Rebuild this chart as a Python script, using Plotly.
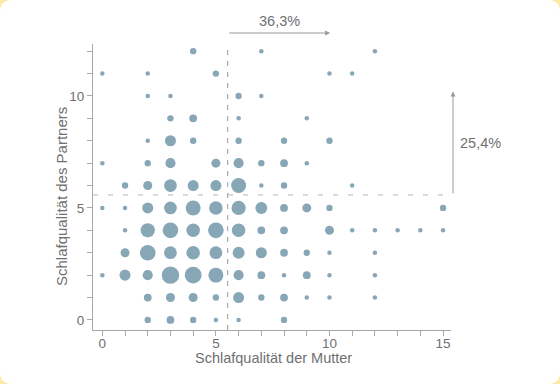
import plotly.graph_objects as go

# ---- data ----
x_values = list(range(0, 16))           # Schlafqualität der Mutter
y_values = list(range(0, 13))           # Schlafqualität des Partners
# counts[y][x]: number of couples at each combination (0 = none)
counts = [
    [0, 0, 2, 3, 2, 1, 1, 0, 2, 0, 0, 0, 0, 0, 0, 0],    # y = 0
    [0, 0, 3, 4, 4, 2, 6, 2, 3, 1, 1, 0, 1, 0, 0, 0],    # y = 1
    [1, 6, 5, 15, 14, 11, 5, 3, 1, 3, 1, 0, 1, 0, 0, 0], # y = 2
    [0, 4, 12, 8, 9, 8, 7, 6, 3, 2, 1, 0, 1, 0, 0, 0],   # y = 3
    [0, 1, 10, 12, 9, 12, 9, 3, 3, 0, 4, 1, 1, 1, 1, 1], # y = 4
    [1, 1, 6, 8, 11, 9, 10, 7, 3, 4, 2, 0, 0, 0, 0, 2],  # y = 5
    [0, 2, 4, 8, 6, 6, 11, 1, 2, 0, 0, 1, 0, 0, 0, 0],   # y = 6
    [1, 0, 2, 5, 0, 4, 5, 2, 3, 1, 0, 0, 0, 0, 0, 0],    # y = 7
    [0, 0, 1, 6, 2, 0, 2, 0, 2, 0, 2, 0, 0, 0, 0, 0],    # y = 8
    [0, 0, 0, 2, 3, 0, 1, 0, 0, 1, 0, 0, 0, 0, 0, 0],    # y = 9
    [0, 0, 1, 1, 0, 0, 2, 1, 0, 0, 0, 0, 0, 0, 0, 0],    # y = 10
    [1, 0, 1, 0, 0, 2, 0, 0, 0, 0, 1, 1, 0, 0, 0, 0],    # y = 11
    [0, 0, 0, 0, 2, 0, 0, 1, 0, 0, 0, 0, 1, 0, 0, 0],    # y = 12
]
mean_x = 5.52
mean_y = 5.58
share_x_label = "36,3%"
share_y_label = "25,4%"
x_tick_vals = list(range(0, 16))
x_tick_text = ["0", "", "", "", "", "5", "", "", "", "", "10", "", "", "", "", "15"]
y_tick_vals = list(range(0, 13))
y_tick_text = ["0", "", "", "", "", "5", "", "", "", "", "10", "", ""]
x_title = "Schlafqualität der Mutter"
y_title = "Schlafqualität des Partners"

# ---- build points ----
px, py, ps = [], [], []
for yi, row in zip(y_values, counts):
    for xi, c in zip(x_values, row):
        if c > 0:
            px.append(xi)
            py.append(yi)
            ps.append(c)

FONT = "Liberation Sans, Arial, sans-serif"
TXT = "#707070"
AX = "#a8a8a8"

fig = go.Figure()
fig.add_trace(go.Scatter(
    x=px, y=py, mode="markers",
    marker=dict(size=ps, sizemode="area", sizeref=2 / 4.5 ** 2, opacity=1,
                color="#87a6b6", line=dict(width=0)),
    hoverinfo="skip", showlegend=False, cliponaxis=False,
))

L, R, T, B = 93, 109, 44, 54
W, H = 560, 384
pw, ph = W - L - R, H - T - B

def fx(p):  # pixel -> paper x
    return (p - L) / pw

def fy(p):  # pixel -> paper y
    return (H - B - p) / ph

# rounded white card over yellow background
x0, x1 = fx(0), fx(W)
y0, y1 = fy(H), fy(0)
rx, ry = 12 / pw, 12 / ph
card = (f"M {x0+rx},{y0} L {x1-rx},{y0} Q {x1},{y0} {x1},{y0+ry} "
        f"L {x1},{y1-ry} Q {x1},{y1} {x1-rx},{y1} L {x0+rx},{y1} "
        f"Q {x0},{y1} {x0},{y1-ry} L {x0},{y0+ry} Q {x0},{y0} {x0+rx},{y0} Z")

shapes = [
    dict(type="path", xref="paper", yref="paper", path=card,
         fillcolor="white", line=dict(width=0), layer="below"),
    dict(type="line", xref="x", yref="paper", x0=mean_x, x1=mean_x,
         y0=0, y1=fy(50), line=dict(color="#9a9a9a", width=1, dash="5px,6px")),
    dict(type="line", xref="paper", yref="y", x0=0, x1=fx(447), y0=mean_y, y1=mean_y,
         line=dict(color="#b5b5b5", width=1, dash="5px,10px")),
]

def lbl(size):
    return dict(showarrow=False, xanchor="center", yanchor="middle",
                font=dict(family=FONT, size=size, color=TXT))

annotations = [
    dict(xref="x", yref="paper", x=10.03, y=fy(33), axref="x", ax=mean_x,
         ayref="pixel", ay=0, showarrow=True, arrowhead=2, arrowsize=1,
         arrowwidth=1, arrowcolor="#999999", text=""),
    dict(xref="paper", yref="y", x=fx(453), y=10.2, ayref="y", ay=mean_y,
         axref="pixel", ax=0, showarrow=True, arrowhead=2, arrowsize=1,
         arrowwidth=1, arrowcolor="#999999", text=""),
    dict(xref="paper", yref="paper", x=fx(279), y=fy(21), text=share_x_label, **lbl(14.5)),
    dict(xref="paper", yref="paper", x=fx(480), y=fy(143), text=share_y_label, **lbl(14.5)),
    dict(xref="paper", yref="paper", x=fx(273), y=fy(358), text=x_title, **lbl(14.5)),
    dict(xref="paper", yref="paper", x=fx(61), y=fy(197), text=y_title,
         textangle=-90, **lbl(15)),
]

axis_common = dict(showgrid=False, zeroline=False, showline=True, linecolor=AX,
                   linewidth=1, ticks="outside", ticklen=5, tickcolor=AX,
                   tickfont=dict(family=FONT, size=13.5, color=TXT), fixedrange=True)

fig.update_layout(
    width=W, height=H,
    margin=dict(l=L, r=R, t=T, b=B, pad=0),
    paper_bgcolor="#fce9a8", plot_bgcolor="white",
    xaxis=dict(range=[-0.41, 15.35], tickmode="array", tickvals=x_tick_vals,
               ticktext=x_tick_text, ticklabelstandoff=-4, **axis_common),
    yaxis=dict(range=[-0.45, 12.32], tickmode="array", tickvals=y_tick_vals,
               ticktext=y_tick_text, **axis_common),
    shapes=shapes, annotations=annotations,
    font=dict(family=FONT, color=TXT),
)

fig.write_html(
    "out.html",
    config={"displayModeBar": False},
    post_script="document.body.style.margin='0';document.body.style.overflow='hidden';",
)
